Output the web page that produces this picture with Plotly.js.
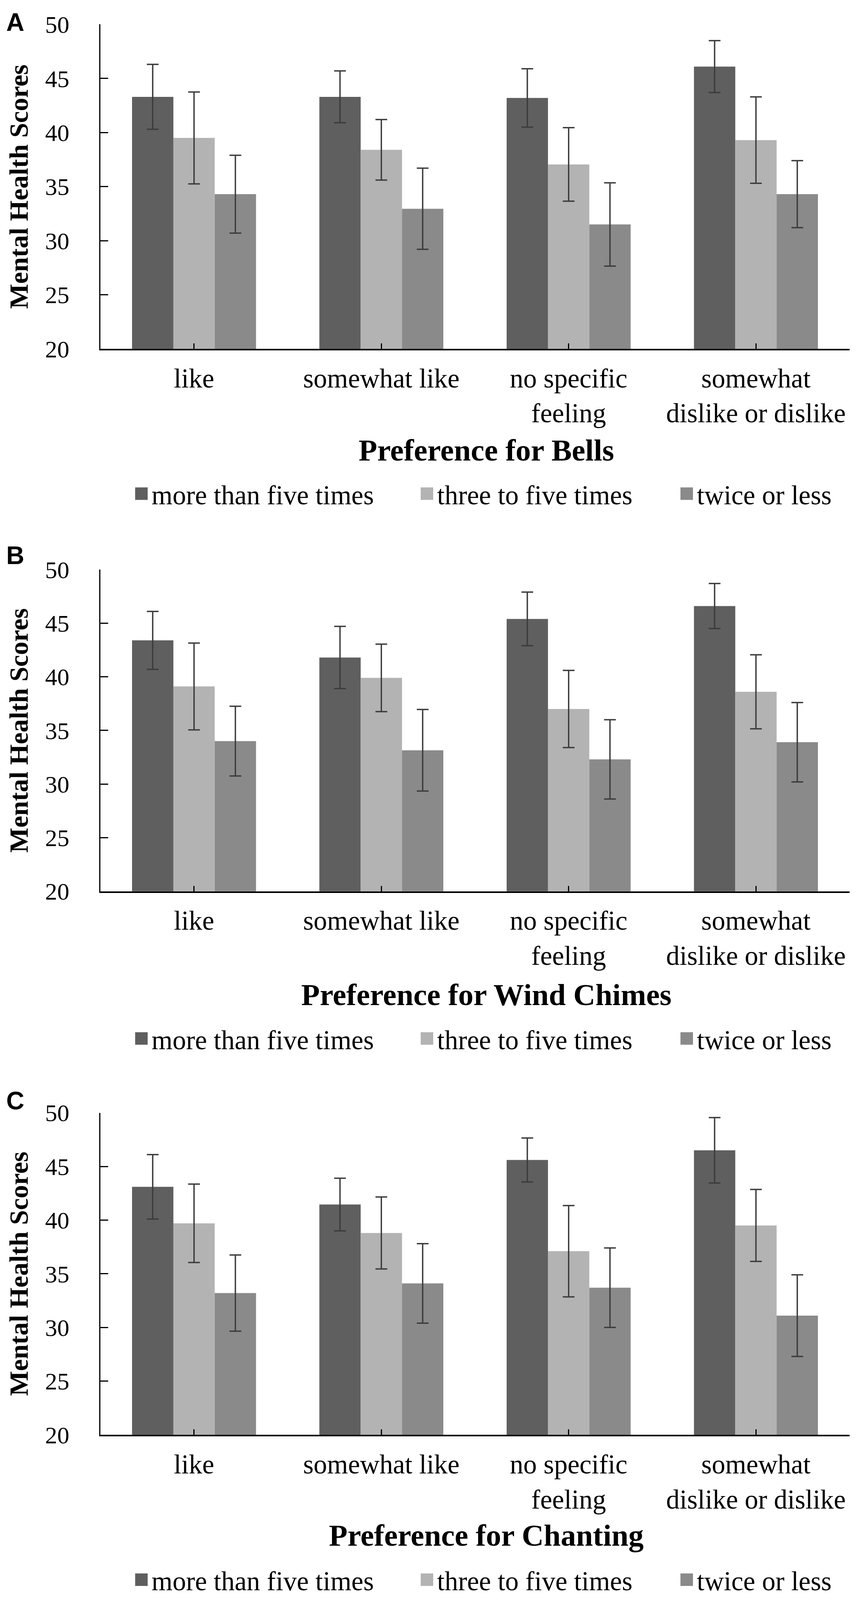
<!DOCTYPE html>
<html>
<head>
<meta charset="utf-8">
<script src="https://cdn.plot.ly/plotly-3.0.1.min.js"></script>
<style>
  html, body { margin: 0; padding: 0; background: #fff; overflow: hidden; }
  #chart { position: absolute; left: 0; top: 0; }
</style>
</head>
<body>
<div id="chart"></div>
<script>
// categories and series
var categories = ['like', 'somewhat like', 'no specific<br>feeling', 'somewhat<br>dislike or dislike'];
var seriesNames = ['more than five times', 'three to five times', 'twice or less'];
var panelTitles = ['Preference for Bells', 'Preference for Wind Chimes', 'Preference for Chanting'];
var panelLetters = ['A', 'B', 'C'];
var yTicks = [20, 25, 30, 35, 40, 45, 50];

// A - bells
var bellsMore = [43.3, 43.3, 43.2, 46.1];
var bellsMoreErr = [3.0, 2.4, 2.7, 2.4];
var bellsThree = [39.5, 38.4, 37.05, 39.3];
var bellsThreeErr = [4.25, 2.8, 3.4, 4.0];
var bellsTwice = [34.3, 32.95, 31.5, 34.3];
var bellsTwiceErr = [3.6, 3.75, 3.85, 3.1];

// B - wind chimes
var chimesMore = [43.4, 41.8, 45.4, 46.6];
var chimesMoreErr = [2.7, 2.9, 2.5, 2.1];
var chimesThree = [39.1, 39.9, 37.0, 38.6];
var chimesThreeErr = [4.05, 3.15, 3.6, 3.45];
var chimesTwice = [34.0, 33.15, 32.3, 33.9];
var chimesTwiceErr = [3.25, 3.8, 3.7, 3.7];

// C - chanting
var chantMore = [43.1, 41.45, 45.6, 46.5];
var chantMoreErr = [3.0, 2.45, 2.05, 3.05];
var chantThree = [39.7, 38.8, 37.1, 39.5];
var chantThreeErr = [3.65, 3.35, 4.25, 3.35];
var chantTwice = [33.2, 34.1, 33.7, 31.1];
var chantTwiceErr = [3.55, 3.7, 3.7, 3.8];

var panels = [
    [[bellsMore, bellsMoreErr], [bellsThree, bellsThreeErr], [bellsTwice, bellsTwiceErr]],
    [[chimesMore, chimesMoreErr], [chimesThree, chimesThreeErr], [chimesTwice, chimesTwiceErr]],
    [[chantMore, chantMoreErr], [chantThree, chantThreeErr], [chantTwice, chantTwiceErr]]
];

// reference frame is 2217 x 4703; fit it to the real viewport
var RW = 2217, RH = 4703;
var W = window.innerWidth || RW, H = window.innerHeight || RH;
var kx = W / RW, ky = H / RH;
var kf = 0.97 * kx;              // font scale, widths follow the reference
function px(p) { return p / RW; }
function py(p) { return 1 - p / RH; }

var colors = ['#5f5f5f', '#b3b3b3', '#8a8a8a'];
var serif = 'Liberation Serif, Times New Roman, serif';

// pixel layout of the three panels (reference frame)
var boxes = [
    { top: 72, bottom: 1030, title: 1330, legend: 1458, letter: 22 },
    { top: 1682, bottom: 2632, title: 2937, legend: 3067, letter: 1596 },
    { top: 3286, bottom: 4237, title: 4534, legend: 4665, letter: 3207 }
];
// left edge of each legend swatch (reference frame)
var legendLeft = [344, 1075, 1740];

var xIdx = categories.map(function (c, i) { return i; });

var traces = [];
var layout = {
    width: W,
    height: H,
    margin: { l: 0, r: 0, t: 0, b: 0 },
    paper_bgcolor: '#fff',
    plot_bgcolor: '#fff',
    barmode: 'group',
    bargap: 0.338,
    bargroupgap: 0,
    showlegend: true,
    annotations: []
};

for (var p = 0; p < 3; p++) {
    var sfx = p === 0 ? '' : String(p + 1);
    var b = boxes[p];
    for (var j = 0; j < 3; j++) {
        var n = p * 3 + j + 1;
        var legName = n === 1 ? 'legend' : 'legend' + n;
        traces.push({
            type: 'bar',
            name: seriesNames[j],
            x: xIdx,
            y: panels[p][j][0],
            xaxis: 'x' + sfx,
            yaxis: 'y' + sfx,
            legend: legName,
            marker: { color: colors[j], line: { width: 0 } },
            error_y: {
                type: 'data',
                array: panels[p][j][1],
                visible: true,
                color: '#3c3c3c',
                thickness: 3.5,
                width: 15
            },
            hoverinfo: 'none'
        });
        layout[legName] = {
            orientation: 'h',
            x: px(legendLeft[j] - 8),
            xanchor: 'left',
            y: py(b.legend),
            yanchor: 'middle',
            font: { family: serif, size: Math.round(71 * kf), color: '#000' },
            itemwidth: 42,
            bgcolor: 'rgba(0,0,0,0)'
        };
    }

    layout['xaxis' + sfx] = {
        domain: [px(257), px(2175)],
        anchor: 'y' + sfx,
        range: [-0.5, 3.5],
        tickmode: 'array',
        tickvals: xIdx.concat([3.5]),
        ticktext: categories.concat(['']),
        ticks: 'inside',
        ticklen: 14,
        tickwidth: 3,
        tickcolor: '#000',
        showline: true,
        linecolor: '#000',
        linewidth: 4,
        showgrid: false,
        zeroline: false,
        ticklabelstandoff: 12,
        tickfont: { family: serif, size: Math.round(71 * kf), color: '#000' }
    };
    layout['yaxis' + sfx] = {
        domain: [py(b.bottom), py(b.top)],
        anchor: 'x' + sfx,
        range: [20, 50],
        tickmode: 'array',
        tickvals: yTicks,
        ticks: 'inside',
        ticklen: 20,
        tickwidth: 3,
        tickcolor: '#000',
        showline: true,
        linecolor: '#000',
        linewidth: 3,
        showgrid: false,
        zeroline: false,
        ticklabelstandoff: 64,
        tickfont: { family: serif, size: Math.round(64 * kf), color: '#000' }
    };

    layout.annotations.push({
        xref: 'paper', yref: 'paper',
        x: px(1245), y: py(b.title),
        xanchor: 'center', yanchor: 'middle',
        showarrow: false,
        text: '<b>' + panelTitles[p] + '</b>',
        font: { family: serif, size: Math.round(80 * kf), color: '#000' }
    });
    layout.annotations.push({
        xref: 'paper', yref: 'paper',
        x: px(48), y: py((b.top + b.bottom) / 2),
        xanchor: 'center', yanchor: 'middle',
        textangle: -90,
        showarrow: false,
        text: '<b>Mental Health Scores</b>',
        font: { family: serif, size: Math.round(78 * ky), color: '#000' }
    });
    layout.annotations.push({
        xref: 'paper', yref: 'paper',
        x: px(14), y: py(b.letter),
        xanchor: 'left', yanchor: 'top',
        showarrow: false,
        text: '<b>' + panelLetters[p] + '</b>',
        font: { family: 'Liberation Sans, Arial, sans-serif', size: Math.round(66 * kf), color: '#000' }
    });
}

// legend swatches are a fixed 12px square in plotly; enlarge them
function bigSwatches() {
    var h = Math.round(17 * kf);
    var d = 'M' + h + ',' + h + 'H-' + h + 'V-' + h + 'H' + h + 'Z';
    document.querySelectorAll('.legendpoints path').forEach(function (el) {
        if (el.getAttribute('d') !== d) el.setAttribute('d', d);
    });
}

var gd = document.getElementById('chart');
Plotly.newPlot(gd, traces, layout, { staticPlot: true }).then(function () {
    bigSwatches();
    gd.on('plotly_afterplot', bigSwatches);
    setTimeout(bigSwatches, 50);
    setTimeout(bigSwatches, 300);
});
</script>
</body>
</html>
